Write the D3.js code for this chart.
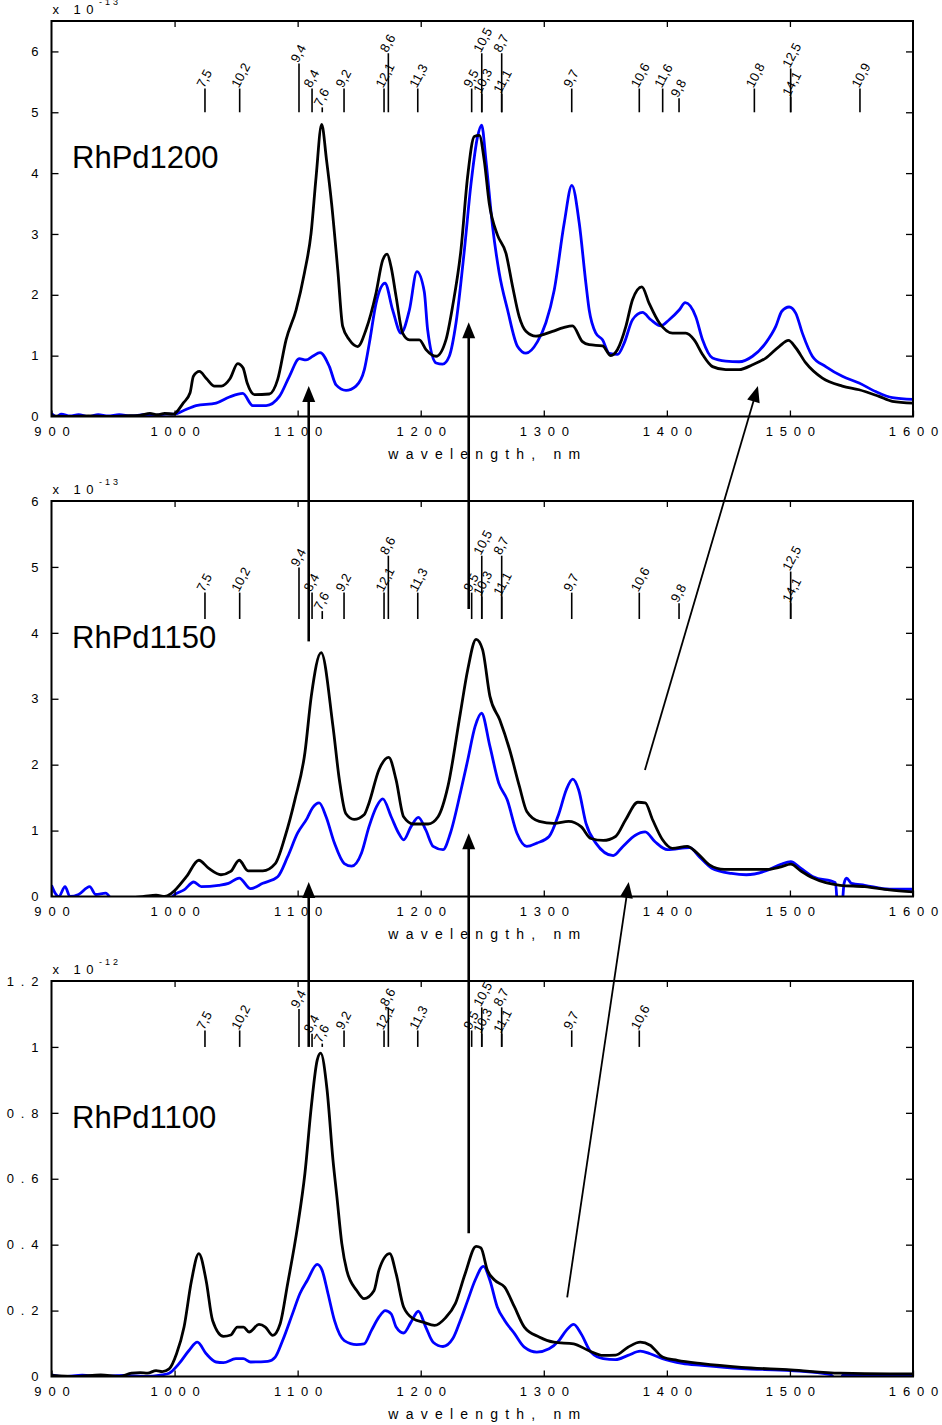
<!DOCTYPE html>
<html>
<head>
<meta charset="utf-8">
<script src="https://cdn.jsdelivr.net/npm/d3@7"></script>
<style>
  html, body { margin: 0; padding: 0; background: #fff; }
  svg { display: block; font-family: Arial, "Liberation Sans", sans-serif; }
</style>
</head>
<body>
<svg id="chart" width="942" height="1425"></svg>
<script>
// ---------- data ----------
const wavelengthTicks = [900, 1000, 1100, 1200, 1300, 1400, 1500, 1600];

const panelNames = ["RhPd1200", "RhPd1150", "RhPd1100"];
const panelExponents = ["-13", "-13", "-12"];
const yTicks1200 = [0, 1, 2, 3, 4, 5, 6];
const yTicks1150 = [0, 1, 2, 3, 4, 5, 6];
const yTicks1100 = [0, 0.2, 0.4, 0.6, 0.8, 1.0, 1.2];
const yMax = [6.5, 6, 1.2];

// spectra: [wavelength nm, intensity]
const black1200 = [[900,0.01],[915,0.0],[930,0.01],[945,0.0],[960,0.01],[972,0.02],[980,0.05],[986,0.03],[992,0.05],[999,0.04],[1007,0.22],[1012.6,0.39],[1015.3,0.66],[1020.2,0.74],[1026,0.62],[1032.4,0.50],[1038,0.50],[1045,0.62],[1051.3,0.87],[1055.6,0.80],[1059,0.55],[1064.9,0.36],[1077,0.37],[1083.8,0.61],[1090.6,1.26],[1098.7,1.75],[1105.5,2.36],[1110.9,3.01],[1115,3.94],[1119.5,4.80],[1123.5,4.21],[1127.6,3.50],[1132.6,2.41],[1136.6,1.48],[1142,1.26],[1148.8,1.15],[1155.6,1.43],[1163.7,2.03],[1169.1,2.57],[1172.7,2.67],[1176,2.45],[1180,1.97],[1185.3,1.37],[1190.8,1.26],[1198.9,1.26],[1204.3,1.10],[1212.5,0.99],[1220.5,1.26],[1225.9,1.81],[1232.7,2.74],[1238.1,3.94],[1243.5,4.60],[1247.6,4.62],[1251.6,4.21],[1255.7,3.50],[1262.4,2.98],[1269.3,2.68],[1274.6,2.14],[1280,1.64],[1285.5,1.40],[1293.6,1.32],[1307.1,1.40],[1316,1.46],[1323.3,1.49],[1331.4,1.23],[1336.9,1.18],[1347.7,1.16],[1354.5,1.00],[1359.9,1.10],[1366.7,1.48],[1372.1,1.92],[1379.7,2.13],[1385.6,1.86],[1393.8,1.54],[1404.6,1.37],[1415.4,1.37],[1422.2,1.26],[1429,1.02],[1437.1,0.82],[1447.9,0.77],[1458.7,0.77],[1469.6,0.85],[1480.4,0.96],[1491.2,1.15],[1498.8,1.25],[1504.7,1.13],[1512.9,0.88],[1526.4,0.63],[1542.6,0.50],[1556.2,0.44],[1572.4,0.33],[1583.2,0.25],[1600,0.22]];

const blue1200 = [[900,0.05],[904,0.0],[908,0.04],[915,0.01],[922,0.03],[930,0.0],[938,0.03],[946,0.01],[955,0.03],[965,0.01],[975,0.03],[985,0.02],[993,0.04],[1000,0.04],[1006.6,0.09],[1017.5,0.18],[1033.7,0.22],[1044.6,0.32],[1055.4,0.38],[1063.5,0.18],[1074.4,0.18],[1085.2,0.33],[1093.3,0.66],[1101.4,0.95],[1106.8,0.93],[1112.2,0.99],[1118.2,1.05],[1125.8,0.82],[1131.2,0.52],[1139.3,0.43],[1147.4,0.50],[1154.2,0.77],[1158.3,1.21],[1163.7,1.86],[1171,2.19],[1177.2,1.75],[1184,1.37],[1190.8,1.75],[1196.9,2.38],[1202.9,2.05],[1205.6,1.43],[1212.5,0.88],[1217.8,0.86],[1223.2,0.99],[1228.7,1.54],[1235.5,2.74],[1240.9,3.83],[1246.2,4.60],[1249.5,4.79],[1253,4.21],[1258.4,3.12],[1263.8,2.36],[1270.6,1.75],[1278.7,1.15],[1285.5,1.04],[1294.9,1.23],[1301.7,1.54],[1308.5,2.08],[1316.6,3.18],[1322.8,3.80],[1328.8,3.18],[1334.2,2.19],[1336.9,1.75],[1342.3,1.37],[1347.7,1.26],[1353.1,1.04],[1359.9,1.02],[1365.4,1.21],[1372.1,1.59],[1380.2,1.71],[1387,1.59],[1395.1,1.49],[1401.9,1.59],[1410,1.75],[1414.9,1.87],[1423.5,1.64],[1429,1.26],[1437.1,0.96],[1447.9,0.91],[1458.7,0.90],[1469.6,0.99],[1480.4,1.21],[1488.5,1.48],[1493.4,1.73],[1499.3,1.80],[1504.7,1.70],[1510.1,1.37],[1518.2,0.99],[1529.1,0.82],[1542.6,0.66],[1556.2,0.55],[1569.7,0.41],[1583.2,0.31],[1600,0.28]];

const black1150 = [[900,-0.03],[950,-0.03],[975,0.0],[985,0.02],[992,0.0],[997.6,0.05],[1009.6,0.30],[1019.7,0.55],[1027.6,0.43],[1037.7,0.33],[1045.6,0.38],[1052.5,0.55],[1059.7,0.39],[1071.7,0.39],[1081.8,0.50],[1089.8,0.91],[1097.8,1.47],[1105.9,2.18],[1111.1,3.04],[1119.1,3.70],[1128.7,2.58],[1133.9,1.77],[1139.1,1.26],[1145.9,1.17],[1154,1.24],[1158,1.42],[1166,1.92],[1174,2.11],[1180,1.77],[1186.1,1.21],[1194.1,1.10],[1206.1,1.10],[1214.1,1.21],[1222.1,1.67],[1232.2,2.78],[1238.2,3.44],[1245,3.90],[1250.2,3.75],[1256.2,3.04],[1264.2,2.68],[1272.2,2.23],[1280.2,1.67],[1286.2,1.29],[1296.3,1.14],[1308.2,1.11],[1320.2,1.14],[1330.3,1.06],[1338.3,0.88],[1348.3,0.85],[1358.3,0.91],[1366.4,1.16],[1376.4,1.43],[1382.4,1.42],[1388.5,1.16],[1396.5,0.86],[1404.5,0.73],[1416.5,0.76],[1424.6,0.66],[1434.6,0.48],[1446.6,0.41],[1464.6,0.41],[1480.7,0.41],[1492.7,0.45],[1500.7,0.49],[1508.7,0.39],[1518.8,0.28],[1540.8,0.17],[1560.8,0.15],[1580.9,0.10],[1600,0.07]];

const blue1150 = [[900,0.17],[903,0.05],[906,0.0],[911,0.15],[915,0.0],[922,0.03],[931,0.15],[936,0.03],[944,0.05],[950,-0.05],[995,-0.05],[1000,0.03],[1007.7,0.10],[1015.6,0.22],[1021.7,0.15],[1035.7,0.17],[1043.8,0.20],[1052.5,0.28],[1061.8,0.12],[1071.7,0.20],[1083.8,0.30],[1091.8,0.60],[1099.9,0.96],[1107.8,1.19],[1111.9,1.34],[1117.5,1.42],[1123.1,1.21],[1129.9,0.81],[1137.9,0.50],[1143.9,0.46],[1151.9,0.66],[1158,1.06],[1164,1.36],[1169.2,1.48],[1176,1.21],[1182.1,0.96],[1186.1,0.86],[1192.1,1.06],[1198.1,1.20],[1204.1,1.01],[1210.1,0.76],[1218.1,0.71],[1224.1,0.96],[1232.2,1.57],[1238.2,2.07],[1244.2,2.58],[1249.4,2.78],[1256.2,2.28],[1263.4,1.72],[1270.2,1.47],[1278.2,0.96],[1286.2,0.76],[1294.3,0.81],[1304.3,0.91],[1312.3,1.26],[1318.3,1.62],[1323.5,1.78],[1328.3,1.62],[1334.3,1.11],[1342.3,0.81],[1356.4,0.62],[1364.3,0.76],[1374.4,0.93],[1382.4,0.98],[1390.4,0.83],[1400.5,0.71],[1418.5,0.74],[1426.5,0.60],[1436.5,0.43],[1452.5,0.35],[1464.6,0.33],[1480.7,0.39],[1492.7,0.49],[1500.7,0.53],[1508.7,0.43],[1518.8,0.30],[1537,0.21],[1539,-0.2],[1542,-0.2],[1544,0.2],[1546,0.28],[1550,0.2],[1560.8,0.17],[1580.9,0.11],[1600,0.11]];

const black1100 = [[900,0.003],[920,0.0],[940,0.005],[955,0.0],[965,0.01],[972,0.012],[978,0.01],[985,0.018],[990,0.015],[995.6,0.023],[1001.6,0.069],[1007.7,0.15],[1013.7,0.29],[1019.7,0.373],[1025.7,0.29],[1030.9,0.17],[1039.7,0.122],[1045.7,0.126],[1051,0.15],[1056,0.15],[1060.6,0.135],[1068.6,0.158],[1073.8,0.15],[1079.8,0.125],[1085.8,0.16],[1091.8,0.28],[1099.9,0.454],[1105.9,0.616],[1111.1,0.819],[1115.9,0.96],[1118.7,0.981],[1123.9,0.87],[1128.7,0.657],[1131.9,0.545],[1135.9,0.403],[1139.9,0.322],[1148,0.261],[1154,0.236],[1162,0.26],[1166,0.322],[1174.8,0.373],[1180,0.312],[1186.1,0.211],[1194.1,0.175],[1202,0.165],[1211.3,0.155],[1220.1,0.178],[1228.1,0.221],[1236.1,0.312],[1245,0.395],[1248.9,0.39],[1254.2,0.322],[1260.2,0.292],[1268.2,0.271],[1276.2,0.211],[1284.2,0.15],[1296.2,0.12],[1308.2,0.104],[1324.3,0.099],[1336.3,0.079],[1348.3,0.064],[1358.3,0.065],[1368.4,0.089],[1378.4,0.104],[1386.4,0.095],[1396.5,0.059],[1408.5,0.049],[1428.5,0.039],[1460.6,0.028],[1500.7,0.02],[1540.8,0.01],[1580.9,0.008],[1600,0.008]];

const blue1100 = [[900,0.005],[910,0.0],[925,0.004],[940,0.0],[960,0.003],[975,0.0],[990,0.005],[995.6,0.01],[1003.6,0.039],[1011.7,0.079],[1018.5,0.104],[1025.7,0.069],[1033.7,0.044],[1039.7,0.042],[1049.8,0.054],[1055.8,0.054],[1061.8,0.044],[1075.8,0.046],[1081.8,0.059],[1087.8,0.109],[1095.8,0.19],[1101.8,0.251],[1107.9,0.292],[1115.9,0.34],[1119.9,0.322],[1124.7,0.251],[1129.9,0.17],[1137.9,0.109],[1148,0.097],[1154,0.099],[1160,0.14],[1166,0.18],[1171.2,0.20],[1176,0.19],[1180,0.15],[1186.1,0.132],[1192.1,0.165],[1198.1,0.198],[1204.1,0.15],[1210.1,0.104],[1218.1,0.091],[1226.1,0.115],[1232.2,0.17],[1238.2,0.231],[1244.2,0.292],[1251,0.334],[1256.2,0.292],[1262.2,0.211],[1268.2,0.17],[1276.2,0.13],[1284.2,0.089],[1294.3,0.074],[1304.3,0.084],[1312.3,0.109],[1318.3,0.14],[1324.3,0.158],[1330.3,0.13],[1338.3,0.074],[1348.3,0.054],[1358.3,0.051],[1368.4,0.064],[1378.4,0.077],[1386.4,0.069],[1396.5,0.054],[1412.5,0.04],[1428.5,0.034],[1460.6,0.024],[1500.7,0.018],[1533,0.006],[1540,-0.02],[1543,0.004],[1570,0.005],[1600,0.005]];

// transition assignments: [label, wavelength nm, stick top]; stick base per panel
const stickBase = [5.0, 4.21, 1.0];
const sticks1200 = [["7,5",1024.7,5.39],["10,2",1052.9,5.39],["9,4",1101.1,5.80],["8,4",1111.7,5.39],["7,6",1120,5.08],["9,2",1137.7,5.39],["12,1",1170.2,5.39],["8,6",1173.7,5.97],["11,3",1197.6,5.39],["9,5",1241.4,5.39],["10,3",1249.6,5.3],["10,5",1249.6,5.97],["11,1",1265.8,5.3],["8,7",1265.8,5.97],["9,7",1322.7,5.39],["10,6",1377.6,5.39],["11,6",1396.6,5.39],["9,8",1409.9,5.23],["10,8",1471.1,5.39],["14,1",1500.6,5.25],["12,5",1500.6,5.72],["10,9",1556.9,5.39]];
const sticks1150 = [["7,5",1024.7,4.61],["10,2",1052.9,4.61],["9,4",1101.1,4.99],["8,4",1111.7,4.61],["7,6",1120,4.33],["9,2",1137.7,4.61],["12,1",1170.2,4.61],["8,6",1173.7,5.17],["11,3",1197.6,4.61],["9,5",1241.4,4.61],["10,3",1249.6,4.55],["10,5",1249.6,5.17],["11,1",1265.8,4.55],["8,7",1265.8,5.17],["9,7",1322.7,4.61],["10,6",1377.6,4.61],["9,8",1409.9,4.45],["14,1",1500.6,4.45],["12,5",1500.6,4.93]];
const sticks1100 = [["7,5",1024.7,1.05],["10,2",1052.9,1.05],["9,4",1101.1,1.115],["8,4",1111.7,1.04],["7,6",1120,1.01],["9,2",1137.7,1.05],["12,1",1170.2,1.05],["8,6",1173.7,1.12],["11,3",1197.6,1.05],["9,5",1241.4,1.05],["10,3",1249.6,1.04],["10,5",1249.6,1.12],["11,1",1265.8,1.04],["8,7",1265.8,1.12],["9,7",1322.7,1.05],["10,6",1377.6,1.05]];

// arrows between panels: [panel, wavelength, value] from -> to
const arrowLinks = [
  { from: [1, 1109, 3.87], to: [0, 1109, 0.50], bold: true },
  { from: [1, 1239, 4.36], to: [0, 1239, 1.55], bold: true },
  { from: [1, 1382.2, 1.92], to: [0, 1474, 0.50], bold: false },
  { from: [2, 1109, 1.0], to: [1, 1109, 0.22], bold: true },
  { from: [2, 1239, 0.435], to: [1, 1239, 0.96], bold: true },
  { from: [2, 1319, 0.24], to: [1, 1369, 0.22], bold: false }
];

// ---------- layout ----------
const svg = d3.select("#chart");
const plotLeft = 51.5, plotRight = 913;
const panelTops = [21, 501, 981];
const panelHeight = 395.5;

const x = d3.scaleLinear().domain([900, 1600]).range([plotLeft, plotRight]);

const panels = [
  { name: panelNames[0], exp: panelExponents[0], ticks: yTicks1200, black: black1200, blue: blue1200, sticks: sticks1200 },
  { name: panelNames[1], exp: panelExponents[1], ticks: yTicks1150, black: black1150, blue: blue1150, sticks: sticks1150 },
  { name: panelNames[2], exp: panelExponents[2], ticks: yTicks1100, black: black1100, blue: blue1100, sticks: sticks1100 }
];
panels.forEach((p, i) => {
  p.top = panelTops[i];
  p.bottom = panelTops[i] + panelHeight;
  p.y = d3.scaleLinear().domain([0, yMax[i]]).range([p.bottom, p.top]);
  p.base = stickBase[i];
});

const fmtTick = v => (Number.isInteger(v) ? String(v) : String(+v.toFixed(1)));
const tickSpacing = 6.8;

// writes a string as spaced-out characters (gap only between characters)
function spaced(textSel, str, gap) {
  textSel.text(null);
  [...str].forEach((ch, k) => {
    textSel.append("tspan").attr("dx", k === 0 ? 0 : gap).text(ch);
  });
}

panels.forEach((p, i) => {
  const g = svg.append("g");

  // clip for spectra
  const clipId = "clip" + i;
  svg.append("clipPath").attr("id", clipId)
    .append("rect").attr("x", plotLeft).attr("y", p.top)
    .attr("width", plotRight - plotLeft).attr("height", panelHeight);

  // spectra
  const line = d3.line().x(d => x(d[0])).y(d => p.y(d[1])).curve(d3.curveMonotoneX);
  const curves = g.append("g").attr("clip-path", `url(#${clipId})`);
  curves.append("path").datum(p.blue).attr("d", line)
    .attr("fill", "none").attr("stroke", "#0000ff").attr("stroke-width", 2.8)
    .attr("stroke-linejoin", "round");
  curves.append("path").datum(p.black).attr("d", line)
    .attr("fill", "none").attr("stroke", "#000").attr("stroke-width", 2.8)
    .attr("stroke-linejoin", "round");

  // assignment sticks and labels
  const sg = g.append("g");
  sg.selectAll("line").data(p.sticks).join("line")
    .attr("x1", d => x(d[1])).attr("x2", d => x(d[1]))
    .attr("y1", p.y(p.base)).attr("y2", d => p.y(d[2]))
    .attr("stroke", "#000").attr("stroke-width", 1.6);
  sg.selectAll("text").data(p.sticks).join("text")
    .attr("transform", d => `translate(${x(d[1]) - 1},${p.y(d[2])}) rotate(-62)`)
    .attr("font-size", 13).attr("fill", "#000")
    .text(d => d[0]);

  // frame
  g.append("rect").attr("x", plotLeft).attr("y", p.top)
    .attr("width", plotRight - plotLeft).attr("height", panelHeight)
    .attr("fill", "none").attr("stroke", "#000").attr("stroke-width", 2);

  // x axis (ticks inward, bottom and top)
  const xb = d3.axisBottom(x).tickValues(wavelengthTicks).tickSize(-6).tickPadding(12).tickFormat(d3.format("d"));
  const xa = g.append("g").attr("transform", `translate(0,${p.bottom})`).call(xb);
  const xt = d3.axisTop(x).tickValues(wavelengthTicks.slice(1, -1)).tickSize(-6).tickFormat("");
  const xta = g.append("g").attr("transform", `translate(0,${p.top})`).call(xt);
  [xa, xta].forEach(a => {
    a.select(".domain").remove();
    a.selectAll(".tick line").attr("stroke", "#000").attr("stroke-width", 1.3);
  });
  xa.selectAll(".tick text")
    .attr("font-size", 13).attr("font-family", "Arial, 'Liberation Sans', sans-serif")
    .attr("fill", "#000").attr("dy", "0.55em")
    .each(function(d) { spaced(d3.select(this), String(d), tickSpacing); });

  // y axis (ticks inward, left and right)
  const yl = d3.axisLeft(p.y).tickValues(p.ticks).tickSize(-7).tickPadding(13).tickFormat(fmtTick);
  const ya = g.append("g").attr("transform", `translate(${plotLeft},0)`).call(yl);
  const yr = d3.axisRight(p.y).tickValues(p.ticks.filter(t => t > 0 && p.y(t) > p.top + 1)).tickSize(-7).tickFormat("");
  const yra = g.append("g").attr("transform", `translate(${plotRight},0)`).call(yr);
  [ya, yra].forEach(a => {
    a.select(".domain").remove();
    a.selectAll(".tick line").attr("stroke", "#000").attr("stroke-width", 1.3);
  });
  ya.selectAll(".tick").filter(d => d === 0 || p.y(d) <= p.top + 1).select("line").remove();
  ya.selectAll(".tick text")
    .attr("font-size", 13).attr("font-family", "Arial, 'Liberation Sans', sans-serif")
    .attr("fill", "#000")
    .each(function(d) { spaced(d3.select(this), fmtTick(d), tickSpacing); });

  // x axis title
  const xt2 = g.append("text").attr("x", (plotLeft + plotRight) / 2 + 2).attr("y", p.bottom + 42)
    .attr("text-anchor", "middle").attr("font-size", 14).attr("fill", "#000");
  spaced(xt2, "wavelength, nm", 7.2);

  // scale factor
  const sf = g.append("text").attr("x", plotLeft + 1).attr("y", p.top - 7.5)
    .attr("font-size", 13).attr("fill", "#000");
  sf.append("tspan").attr("letter-spacing", 5.5).text("x 10");
  sf.append("tspan").attr("font-size", 9).attr("letter-spacing", 3)
    .attr("dx", 0).attr("dy", -9).text(p.exp);

  // sample label
  g.append("text").attr("x", 72).attr("y", p.top + 147)
    .attr("font-size", 31).attr("fill", "#000").text(p.name);
});

// ---------- arrows between panels ----------
const ag = svg.append("g");
arrowLinks.forEach(a => {
  const x1 = x(a.from[1]), y1 = panels[a.from[0]].y(a.from[2]);
  const x2 = x(a.to[1]), y2 = panels[a.to[0]].y(a.to[2]);
  const len = Math.hypot(x2 - x1, y2 - y1);
  const ux = (x2 - x1) / len, uy = (y2 - y1) / len;
  const headL = 16, headW = 6.5;
  const bx = x2 - ux * headL, by = y2 - uy * headL;
  ag.append("line").attr("x1", x1).attr("y1", y1).attr("x2", bx + ux * 2).attr("y2", by + uy * 2)
    .attr("stroke", "#000").attr("stroke-width", a.bold ? 2.6 : 1.8);
  ag.append("path")
    .attr("d", `M${x2},${y2} L${bx - uy * headW},${by + ux * headW} L${bx + uy * headW},${by - ux * headW} Z`)
    .attr("fill", "#000");
});
</script>
</body>
</html>
